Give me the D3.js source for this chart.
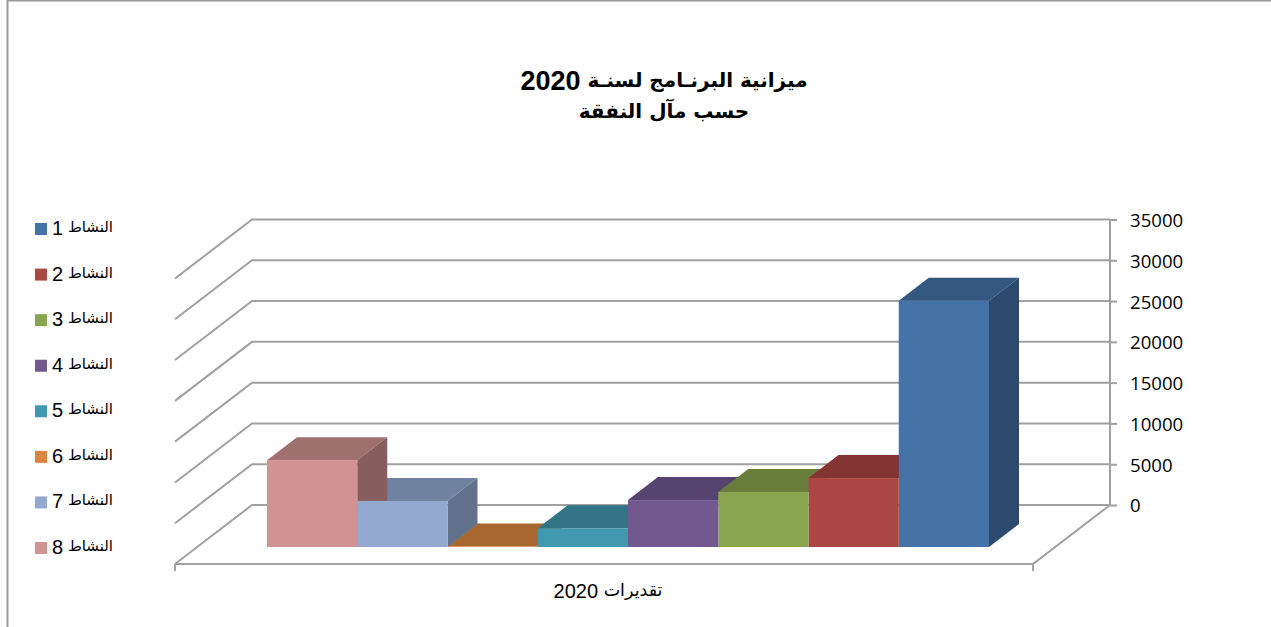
<!DOCTYPE html>
<html lang="ar">
<head>
<meta charset="utf-8">
<script src="https://cdn.jsdelivr.net/npm/d3@7/dist/d3.min.js"></script>
<style>
html,body{margin:0;padding:0;background:#fff;overflow:hidden}
svg{display:block}
text{fill:#000}
.ar{font-family:"DejaVu Sans",sans-serif}
</style>
</head>
<body>
<svg id="c" width="1271" height="627"></svg>
<script>
const seriesNames = ["النشاط 1","النشاط 2","النشاط 3","النشاط 4","النشاط 5","النشاط 6","النشاط 7","النشاط 8"];
const seriesValues = [30200,8450,6750,5750,2300,60,5650,10650];
const yTicks = [0,5000,10000,15000,20000,25000,30000,35000];
const titleLines = ["ميزانية البرنـامج لسنـة 2020","حسب مآل النفقة"];
const categoryLabel = "تقديرات 2020";
const frontColors = ["#4572A7","#AA4643","#89A54E","#71588F","#4198AF","#DB843D","#93A9CF","#D19392"];
const topColors   = ["#34587F","#833331","#687D3B","#57436F","#317486","#A8672F","#6F829F","#A0706F"];
const sideColors  = ["#2C4A6E","#702C2A","#586A32","#4A395E","#2A6373","#8F5728","#62718C","#875E5D"];

const svg = d3.select("#c");
const grid = "#a0a0a0";

// Arabic runs and digit runs use different faces, as in the reference
function mixedText(sel, digitSize, shift){
  sel.each(function(d){
    const t = d3.select(this);
    d.split(/(\d+)/).filter(s=>s.length).forEach(part=>{
      const s = t.append("tspan").text(part);
      if(/^\d+$/.test(part)){
        s.attr("font-family","'Liberation Sans',Arial,sans-serif")
         .attr("font-size",digitSize)
         .attr("baseline-shift",shift);
      }
    });
  });
}

// frame
svg.append("path").attr("d","M7.5,627V0.5H1271").attr("fill","none").attr("stroke","#9a9a9a").attr("stroke-width",2);

// scales
const y = d3.scaleLinear().domain([0,35000]).range([505,219.5]);
const x = d3.scaleBand().domain(d3.range(seriesNames.length).reverse()).range([267,989]);
const wallL = 252, wallR = 1110, wdx = 77, wdy = 59;
const bdx = 30, bdy = 23, baseShift = 42;

// walls and floor
const g = svg.append("g").attr("fill","none").attr("stroke",grid).attr("stroke-width",2);
yTicks.forEach(t=>{
  g.append("path").attr("d",`M${wallL-wdx},${y(t)+wdy}L${wallL},${y(t)}H${wallR}`);
});
g.append("path").attr("d",`M${wallL-wdx},${y(0)+wdy}H${wallR-wdx}L${wallR},${y(0)}`);
g.append("path").attr("d",`M${wallL-wdx},${y(0)+wdy}v7M${wallR-wdx},${y(0)+wdy}v7`);

// axis
const axis = svg.append("g").attr("transform",`translate(${wallR},0)`)
  .call(d3.axisRight(y).tickValues(yTicks).tickSize(7).tickPadding(13).tickFormat(d3.format("d")));
axis.selectAll("path,line").attr("stroke",grid).attr("stroke-width",2);
axis.select(".domain").attr("d",`M0,${y(35000)}V${y(0)}`);
axis.selectAll("text").attr("font-family","'Open Sans',sans-serif").attr("font-size",18.6).attr("fill","#000")
  .attr("transform","translate(0,1)");

// bars: tops (shortest first), then exposed sides, then fronts
const idx = d3.range(seriesValues.length);
const ascending = idx.slice().sort((a,b)=>seriesValues[a]-seriesValues[b]);
const topOf = i => y(seriesValues[i]) + baseShift, bot = y(0) + baseShift;
const bars = svg.append("g");
bars.append("g").selectAll("path").data(ascending).join("path")
  .attr("fill",i=>topColors[i])
  .attr("d",i=>`M${x(i)},${topOf(i)}l${bdx},${-bdy}h${x.bandwidth()}l${-bdx},${bdy}Z`);
bars.append("g").selectAll("path").data(idx.filter(i=>i===0||seriesValues[i]>seriesValues[i-1])).join("path")
  .attr("fill",i=>sideColors[i])
  .attr("d",i=>`M${x(i)+x.bandwidth()},${topOf(i)}l${bdx},${-bdy}V${bot-bdy}l${-bdx},${bdy}Z`);
bars.append("g").selectAll("rect").data(idx).join("rect")
  .attr("x",i=>x(i)).attr("y",topOf).attr("width",x.bandwidth()).attr("height",i=>bot-topOf(i))
  .attr("fill",i=>frontColors[i]);

// title
svg.append("g").selectAll("text").data(titleLines).join("text")
  .attr("class","ar").attr("x",664).attr("y",(d,i)=>87+i*31)
  .attr("text-anchor","middle").attr("direction","rtl")
  .attr("font-weight","bold").attr("font-size",20)
  .call(mixedText,27,"-3px");

// category label
svg.append("text").datum(categoryLabel).attr("class","ar").attr("x",608).attr("y",596)
  .attr("text-anchor","middle").attr("direction","rtl").attr("font-size",17.5)
  .call(mixedText,20,"-2px");

// legend
const legendY = d3.scalePoint().domain(d3.range(seriesNames.length)).range([229,548]);
const leg = svg.append("g").selectAll("g").data(seriesNames).join("g")
  .attr("transform",(d,i)=>`translate(0,${legendY(i)})`);
leg.append("rect").attr("x",35).attr("y",-6).attr("width",12).attr("height",12).attr("fill",(d,i)=>frontColors[i]);
leg.append("text").attr("class","ar").attr("x",113).attr("y",3)
  .attr("text-anchor","start").attr("direction","rtl").attr("font-size",15)
  .call(mixedText,20,"-3px");
</script>
</body>
</html>
